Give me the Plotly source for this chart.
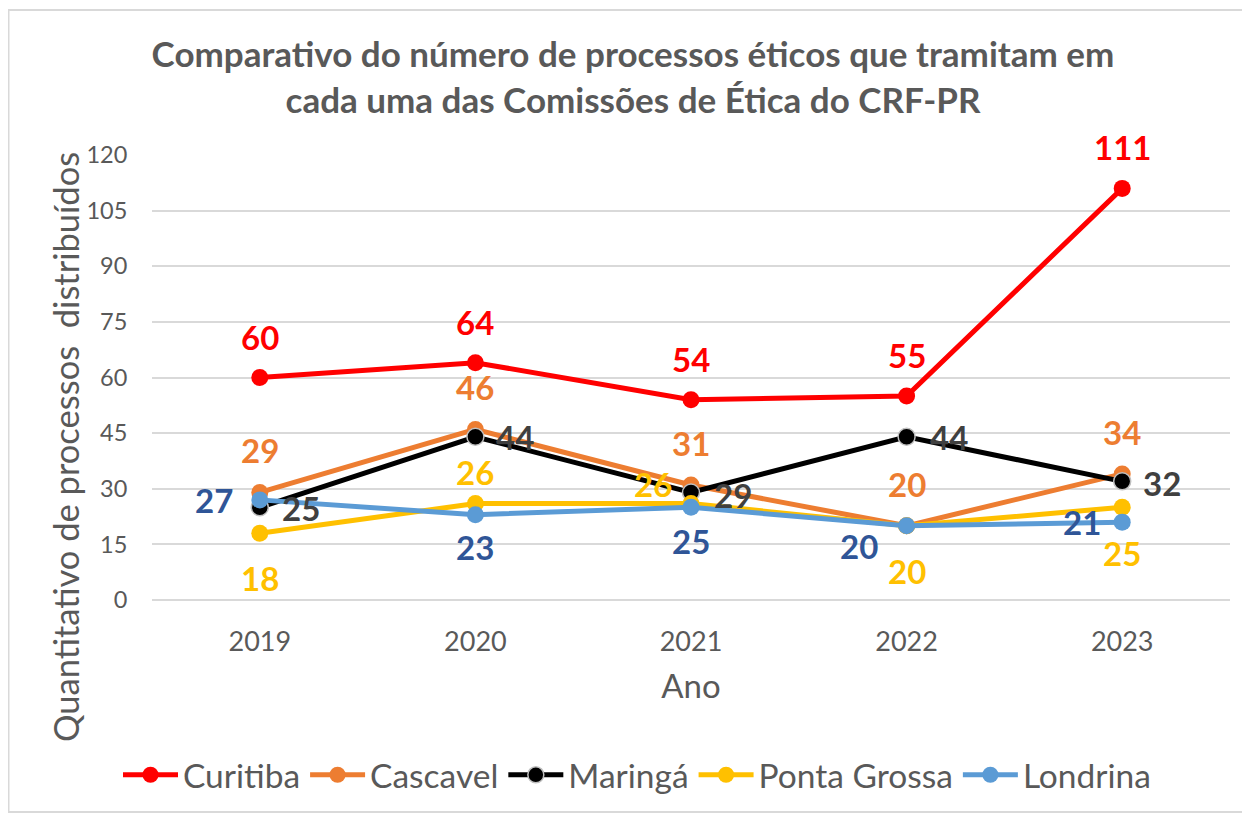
import plotly.graph_objects as go

# ---- data ----
years = ["2019", "2020", "2021", "2022", "2023"]
curitiba = [60, 64, 54, 55, 111]
cascavel = [29, 46, 31, 20, 34]
maringa = [25, 44, 29, 44, 32]
ponta_grossa = [18, 26, 26, 20, 25]
londrina = [27, 23, 25, 20, 21]
y_tick_values = [0, 15, 30, 45, 60, 75, 90, 105, 120]

title_text = ("<b>Comparativo do número de processos éticos que tramitam em<br>"
              "cada uma das Comissões de Ética do CRF-PR</b>")
x_title = "Ano"
y_title = "Quantitativo de processos  distribuídos"

# ---- styles ----
FONT = "Lato, 'Open Sans', sans-serif"
GRAY = "#595959"
series = [
    dict(name="Curitiba", values=curitiba, color="#FF0000", label_color="#FF0000"),
    dict(name="Cascavel", values=cascavel, color="#ED7D31", label_color="#ED7D31"),
    dict(name="Maringá", values=maringa, color="#000000", label_color="#404040"),
    dict(name="Ponta Grossa", values=ponta_grossa, color="#FFC000", label_color="#FFC000"),
    dict(name="Londrina", values=londrina, color="#5B9BD5", label_color="#2F5597"),
]
# label pixel offsets (xshift, yshift) per point
label_offsets = {
    "Curitiba": [(0, 41)] * 5,
    "Cascavel": [(0, 42)] * 5,
    "Maringá": [(41, -1), (40, 0), (42, -3), (42, 0), (40, -2)],
    "Ponta Grossa": [(0, -45), (0, 32), (-38, 20), (0, -45), (0, -46)],
    "Londrina": [(-46, 0), (0, -32), (0, -34), (-48, -20), (-40, 0)],
}

# page is drawn 8px in from the window corner (body margin)
OFF = 8
W, H = 1250 - OFF, 817 - OFF
L, R, T, B = 152 - OFF, 20, 155 - OFF, 217
pw, ph = W - L - R, H - T - B


def px_x(px):
    return (px - L) / pw


def px_y(py):
    return (H - B - py) / ph


fig = go.Figure()
annotations = []
for s in series:
    mline = dict(width=1.5, color="#BFBFBF") if s["name"] == "Maringá" else dict(width=0)
    fig.add_trace(go.Scatter(
        x=years, y=s["values"], name=s["name"], mode="lines+markers",
        line=dict(color=s["color"], width=5),
        marker=dict(size=17, color=s["color"], line=mline),
    ))
    for i, v in enumerate(s["values"]):
        dx, dy = label_offsets[s["name"]][i]
        annotations.append(dict(
            x=i, y=v, xref="x", yref="y", text=f"<b>{v}</b>", showarrow=False,
            xshift=dx, yshift=dy, xanchor="center", yanchor="middle",
            font=dict(family=FONT, size=33, color=s["label_color"]),
        ))

# y-axis title (placed as in the reference, off the plot-area centre)
annotations.append(dict(
    text=y_title, textangle=-90, showarrow=False,
    xref="paper", yref="paper", x=px_x(65 - OFF), y=px_y(447 - OFF),
    xanchor="center", yanchor="middle",
    font=dict(family=FONT, size=34.5, color=GRAY),
))

fig.add_shape(type="rect", xref="paper", yref="paper",
              x0=px_x(0.5), x1=px_x(W + 10), y0=px_y(H - 5), y1=px_y(2),
              line=dict(color="#D9D9D9", width=2), layer="below")

fig.update_layout(
    width=W, height=H,
    margin=dict(l=L, r=R, t=T, b=B, autoexpand=False),
    paper_bgcolor="white", plot_bgcolor="white",
    font=dict(family=FONT, color=GRAY),
    title=dict(text=title_text, x=(633 - OFF) / W, xref="container", xanchor="center",
               y=1 - 59 / H, yref="container", yanchor="top",
               font=dict(family=FONT, size=35, color=GRAY)),
    xaxis=dict(type="category", range=[-0.5, 4.5], showgrid=False, showline=False,
               zeroline=False, ticks="outside", ticklen=18, tickcolor="rgba(0,0,0,0)",
               tickfont=dict(family=FONT, size=27, color=GRAY),
               title=dict(text=x_title, standoff=18,
                          font=dict(family=FONT, size=33, color=GRAY)),
               automargin=False, fixedrange=True),
    yaxis=dict(range=[0, 120], tickvals=y_tick_values, showgrid=True,
               gridcolor="#D9D9D9", gridwidth=2, zeroline=True, zerolinecolor="#D9D9D9",
               zerolinewidth=2, showline=False, ticks="outside", ticklen=19,
               tickcolor="rgba(0,0,0,0)",
               tickfont=dict(family=FONT, size=23.5, color=GRAY),
               automargin=False, fixedrange=True),
    legend=dict(orientation="h", xref="container", x=(637 - OFF) / W, xanchor="center",
                yref="container", y=1 - (775 - OFF) / H, yanchor="middle",
                font=dict(family=FONT, size=33.5, color=GRAY), itemwidth=55,
                bgcolor="rgba(0,0,0,0)"),
    annotations=annotations,
    showlegend=True,
)

fig.write_html("out.html")
